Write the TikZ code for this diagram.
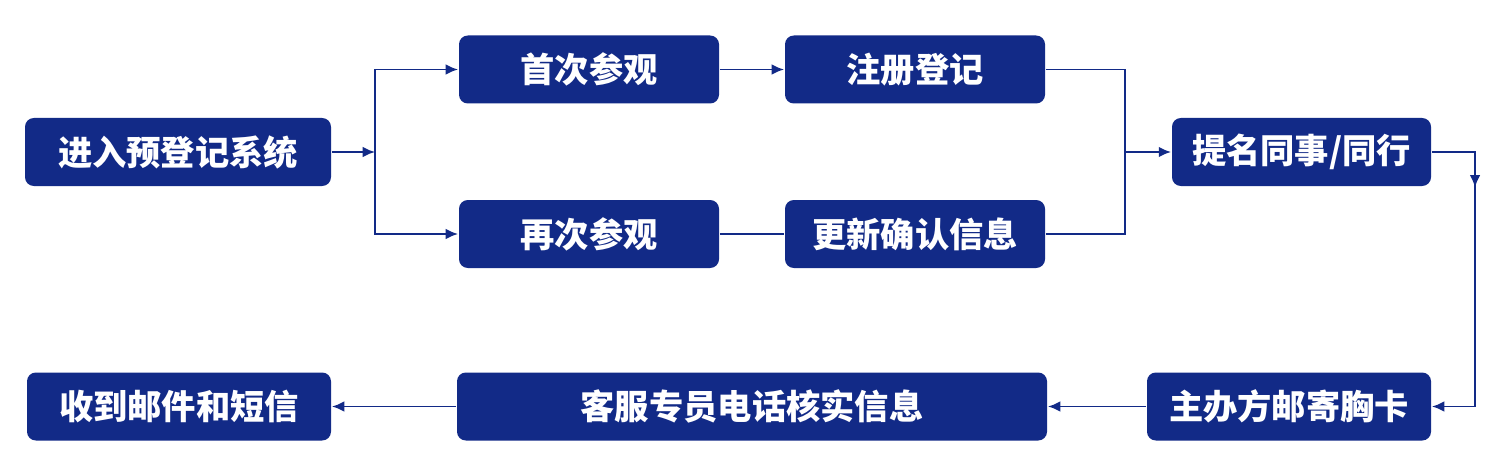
\documentclass[tikz,border=0pt]{standalone}
\usepackage{fontspec}
\newfontfamily\cjk{Noto Sans CJK SC}
\usetikzlibrary{arrows.meta}

\begin{document}
\begin{tikzpicture}[>={Latex[length=7pt,width=6pt]}, line width=1.1pt]

\definecolor{flowblue}{RGB}{18, 42, 135}

\tikzset{
  box/.style={fill=flowblue, text=white, rounded corners=5pt, minimum height=1.36cm,
    inner sep=0pt, font=\cjk\bfseries\fontsize{19.5}{22}\selectfont},
  link/.style={draw=flowblue}
}

% Canvas
\useasboundingbox (0,0) rectangle (30,-9.5);

% TOP ROW
\node[box, minimum width=6.12cm] (entry) at (3.56,-3.04) {进入预登记系统};
\node[box, minimum width=5.2cm] (first) at (11.78,-1.39) {首次参观};
\node[box, minimum width=5.2cm] (register) at (18.3,-1.39) {注册登记};
\node[box, minimum width=5.2cm] (again) at (11.78,-4.68) {再次参观};
\node[box, minimum width=5.2cm] (update) at (18.3,-4.68) {更新确认信息};
\node[box, minimum width=5.18cm] (nominate) at (26.03,-3.04) {提名同事/同行};

% BOTTOM ROW
\node[box, minimum width=5.68cm] (mail) at (25.78,-8.13) {主办方邮寄胸卡};
\node[box, minimum width=11.8cm] (verify) at (15.04,-8.13) {客服专员电话核实信息};
\node[box, minimum width=6.08cm] (receive) at (3.58,-8.13) {收到邮件和短信};

% Junctions
\coordinate (split) at (7.5,-3.04);
\coordinate (merge) at (22.5,-3.04);
\coordinate (corner) at (29.5,-3.04);
\coordinate (drop) at (29.5,-3.75);
\coordinate (bend) at (29.5,-8.13);

% Branch
\draw[link, ->] (entry) -- (split);
\draw[link, ->] (split) |- (first);
\draw[link, ->] (split) |- (again);
\draw[link, ->] (first) -- (register);
\draw[link] (again) -- (update);

% Merge
\draw[link] (register) -| (merge);
\draw[link] (update) -| (merge);
\draw[link, ->] (merge) -- (nominate);

% Down and back
\draw[link, ->] (nominate) -- (corner) -- (drop);
\draw[link, ->] (corner) -- (bend) -- (mail);
\draw[link, ->] (mail) -- (verify);
\draw[link, ->] (verify) -- (receive);

\end{tikzpicture}
\end{document}
